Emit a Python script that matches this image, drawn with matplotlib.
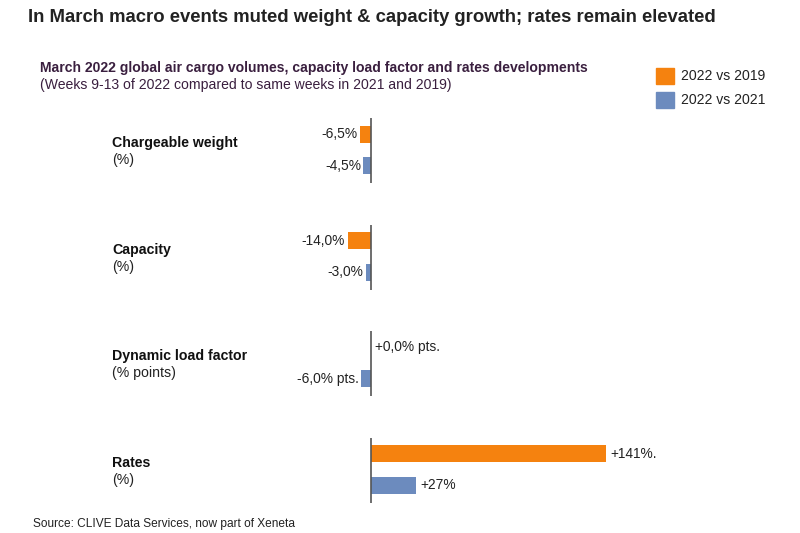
import numpy as np
import matplotlib
matplotlib.use("Agg")
from matplotlib import pyplot as plt
from matplotlib.patches import Rectangle

plt.rcParams['font.family'] = ['Liberation Sans', 'DejaVu Sans']

categories = ["Chargeable weight", "Capacity", "Dynamic load factor", "Rates"]
units = ["(%)", "(%)", "(% points)", "(%)"]
vs_2019 = [-6.5, -14.0, 0.0, 141.0]
vs_2021 = [-4.5, -3.0, -6.0, 27.0]
labels_2019 = ["-6,5%", "-14,0%", "+0,0% pts.", "+141%."]
labels_2021 = ["-4,5%", "-3,0%", "-6,0% pts.", "+27%"]
series_names = ["2022 vs 2019", "2022 vs 2021"]

ORANGE = "#F5820F"
BLUE = "#6C8BBE"
PURPLE = "#3A1F3F"

W, H = 800, 533
fig = plt.figure(figsize=(8, 5.33), dpi=100)
ax = fig.add_axes([0, 0, 1, 1])

# pixel mapping: zero line at x=371, 1.67 px per percent; groups 106.5 px apart
zero_px, px_per = 371, 1.67
ax.set_xlim(-zero_px / px_per, (W - zero_px) / px_per)
g0, gstep = 150, 106.5
ax.set_ylim((H - g0) / gstep, -g0 / gstep)
ax.axis("off")

y = np.arange(len(categories))
off, h = 0.146, 0.16
ax.barh(y - off, vs_2019, height=h, color=ORANGE)
ax.barh(y + off, vs_2021, height=h, color=BLUE)

for i in y:
    ax.plot([0, 0], [i - 0.3, i + 0.31], color="#555555", lw=1.2, solid_capstyle="butt")
    for v, lab, yy in [(vs_2019[i], labels_2019[i], i - off), (vs_2021[i], labels_2021[i], i + off)]:
        if v < 0:
            ax.text(v - 1.5, yy, lab, ha="right", va="center", fontsize=9.9, color="#222222")
        else:
            ax.text(v + 2.5, yy, lab, ha="left", va="center", fontsize=9.9, color="#222222")
    ax.text(-155, i - 0.065, categories[i], ha="left", va="center", fontsize=10.2,
            fontweight="bold", color="#111111")
    ax.text(-155, i + 0.095, units[i], ha="left", va="center", fontsize=10.2, color="#222222")

fig.text(28 / W, 1 - 17 / H, "In March macro events muted weight & capacity growth; rates remain elevated",
         ha="left", va="center", fontsize=13.3, fontweight="bold", color="#222222")
fig.text(40 / W, 1 - 68 / H,
         "March 2022 global air cargo volumes, capacity load factor and rates developments",
         ha="left", va="center", fontsize=10.1, fontweight="bold", color=PURPLE)
fig.text(40 / W, 1 - 85 / H, "(Weeks 9-13 of 2022 compared to same weeks in 2021 and 2019)",
         ha="left", va="center", fontsize=10.1, color=PURPLE)

for k, (name, col) in enumerate(zip(series_names, [ORANGE, BLUE])):
    yc = 76 + 24 * k
    fig.patches.append(Rectangle((656 / W, 1 - (yc + 8) / H), 18 / W, 16 / H,
                                 transform=fig.transFigure, color=col))
    fig.text(681 / W, 1 - yc / H, name, ha="left", va="center", fontsize=10.1, color="#222222")

fig.text(33 / W, 1 - 524 / H, "Source: CLIVE Data Services, now part of Xeneta",
         ha="left", va="center", fontsize=8.6, color="#222222")

fig.savefig("out.png", dpi=100, facecolor="white")
